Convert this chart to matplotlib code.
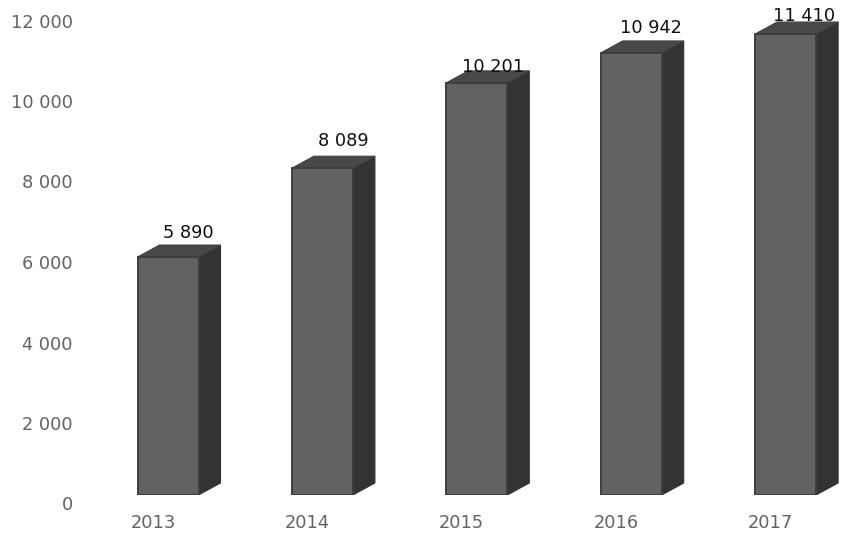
import matplotlib
matplotlib.use("Agg")
import matplotlib.pyplot as plt
from matplotlib.patches import Polygon

years = ["2013", "2014", "2015", "2016", "2017"]
values = [5890, 8089, 10201, 10942, 11410]
value_labels = ["5 890", "8 089", "10 201", "10 942", "11 410"]
y_ticks = [0, 2000, 4000, 6000, 8000, 10000, 12000]
y_tick_labels = ["0", "2 000", "4 000", "6 000", "8 000", "10 000", "12 000"]

W, H = 852, 553
plt.rcParams["font.family"] = ["DejaVu Sans"]
fig = plt.figure(figsize=(W / 100, H / 100), dpi=100, facecolor="white")

# plot area in pixels: y=0 at row 495, scale 0.0404 px/unit
left, right, bottom_px, top_px = 90, 852, 495, 10
ax = fig.add_axes([left / W, 1 - bottom_px / H, (right - left) / W, (bottom_px - top_px) / H])
ax.set_xlim(left, right)   # one x unit is one pixel
step = 154.4
x0 = 137.5
bar_w = 61
ymax = (bottom_px - top_px) / 0.0404
ax.set_ylim(0, ymax)
unit = ymax / (bottom_px - top_px)
dx, dy = 22, 12 * unit

xs = [x0 + i * step for i in range(len(values))]
edge = "#3e3e3e"
for x, v in zip(xs, values):
    ax.add_patch(Polygon([(x + bar_w, 0), (x + bar_w + dx, dy), (x + bar_w + dx, v + dy), (x + bar_w, v)],
                         facecolor="#333333", edgecolor="#333333", lw=0.8, zorder=2))
    ax.add_patch(Polygon([(x, v), (x + dx, v + dy), (x + bar_w + dx, v + dy), (x + bar_w, v)],
                         facecolor="#484848", edgecolor="#424242", lw=0.8, zorder=2))
ax.bar(xs, values, width=bar_w, align="edge", facecolor="#626262", edgecolor=edge, linewidth=1.4, zorder=3)

# value labels
lab_dx = [24, 25, 20, 24, 22]
lab_dy = [24, 27, 16, 25, 18]
for x, v, s, ldx, ldy in zip(xs, values, value_labels, lab_dx, lab_dy):
    ax.annotate(s, (x + bar_w / 2 + ldx - 4, v), xytext=(0, ldy * 0.72), textcoords="offset points",
                ha="center", va="center", fontsize=12.8, color="#111111", zorder=5, annotation_clip=False)

ax.set_xticks([x + 15.5 for x in xs], years)
ax.set_yticks([])
ax.tick_params(axis="x", length=0, labelsize=12.8, labelcolor="#636363", pad=13.5)
for s in ax.spines.values():
    s.set_visible(False)
ax.patch.set_alpha(0)

# value-axis text has its own slightly different scale in the reference
tick_left, tick_bottom, tick_top = 73, 503.5, 20.5
axt = fig.add_axes([tick_left / W, 1 - tick_bottom / H, 10 / W, (tick_bottom - tick_top) / H])
axt.set_ylim(0, 12000)
axt.set_xticks([])
axt.set_yticks(y_ticks, y_tick_labels)
axt.tick_params(axis="y", length=0, pad=0, labelsize=12.8, labelcolor="#636363")
for s in axt.spines.values():
    s.set_visible(False)
axt.patch.set_alpha(0)

fig.savefig("out.png", dpi=100)
